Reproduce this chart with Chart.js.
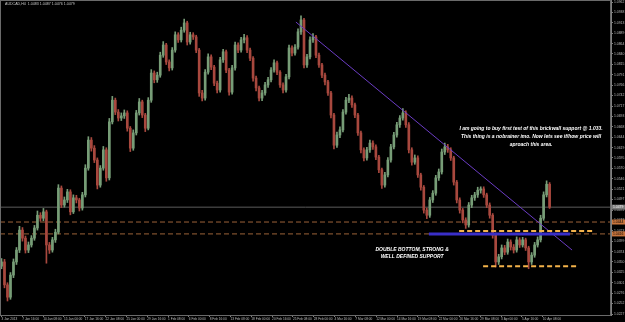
<!DOCTYPE html>
<html>
<head>
<meta charset="utf-8">
<script src="https://cdn.jsdelivr.net/npm/chart.js@4.4.1/dist/chart.umd.min.js"></script>
<style>
  html, body { margin: 0; padding: 0; background: #000; }
  #wrap { width: 625px; height: 322px; position: relative; }
</style>
</head>
<body>
<div id="wrap"><canvas id="chart"></canvas></div>
<script>
// H4 candles, open of each bar = close of the bar before
const firstOpen = 1.0340;
const closes = [
  1.0350, 1.0296, 1.0267, 1.0319, 1.0350, 1.0378, 1.0425, 1.0406, 1.0378, 1.0390,
  1.0406, 1.0430, 1.0460, 1.0453, 1.0468, 1.0390, 1.0378, 1.0402, 1.0420, 1.0524,
  1.0484, 1.0496, 1.0515, 1.0468, 1.0501, 1.0496, 1.0477, 1.0508, 1.0571, 1.0637,
  1.0618, 1.0590, 1.0531, 1.0571, 1.0614, 1.0548, 1.0680, 1.0731, 1.0703, 1.0689,
  1.0694, 1.0701, 1.0665, 1.0618, 1.0654, 1.0701, 1.0727, 1.0696, 1.0665, 1.0731,
  1.0795, 1.0779, 1.0790, 1.0837, 1.0861, 1.0821, 1.0807, 1.0849, 1.0885, 1.0873,
  1.0896, 1.0913, 1.0868, 1.0885, 1.0880, 1.0849, 1.0748, 1.0736, 1.0797, 1.0833,
  1.0809, 1.0771, 1.0755, 1.0826, 1.0845, 1.0802, 1.0750, 1.0807, 1.0861, 1.0849,
  1.0873, 1.0878, 1.0849, 1.0830, 1.0783, 1.0760, 1.0736, 1.0748, 1.0767, 1.0779,
  1.0802, 1.0819, 1.0797, 1.0767, 1.0755, 1.0786, 1.0854, 1.0842, 1.0856, 1.0892,
  1.0920, 1.0814, 1.0833, 1.0873, 1.0880, 1.0837, 1.0814, 1.0790, 1.0774, 1.0748,
  1.0696, 1.0625, 1.0649, 1.0661, 1.0703, 1.0731, 1.0736, 1.0720, 1.0696, 1.0654,
  1.0614, 1.0595, 1.0614, 1.0630, 1.0621, 1.0597, 1.0567, 1.0531, 1.0555, 1.0590,
  1.0621, 1.0649, 1.0673, 1.0689, 1.0701, 1.0673, 1.0614, 1.0585, 1.0595, 1.0555,
  1.0526, 1.0472, 1.0460, 1.0496, 1.0512, 1.0548, 1.0562, 1.0609, 1.0621, 1.0614,
  1.0595, 1.0538, 1.0496, 1.0472, 1.0449, 1.0437, 1.0484, 1.0501, 1.0508, 1.0519,
  1.0522, 1.0508, 1.0484, 1.0460, 1.0413, 1.0350, 1.0362, 1.0383, 1.0373, 1.0397,
  1.0385, 1.0378, 1.0402, 1.0390, 1.0402, 1.0383, 1.0350, 1.0366, 1.0390, 1.0402,
  1.0453, 1.0508, 1.0533, 1.0479
];
const highs = [
  1.0358, 1.0356, 1.0301, 1.0325, 1.0357, 1.0384, 1.0434, 1.0431, 1.0411, 1.0397,
  1.0412, 1.0436, 1.0470, 1.0466, 1.0476, 1.0472, 1.0396, 1.0408, 1.0427, 1.0532,
  1.0529, 1.0503, 1.0521, 1.0520, 1.0508, 1.0507, 1.0500, 1.0514, 1.0579, 1.0645,
  1.0643, 1.0624, 1.0595, 1.0577, 1.0622, 1.0619, 1.0688, 1.0740, 1.0736, 1.0709,
  1.0701, 1.0708, 1.0706, 1.0669, 1.0661, 1.0707, 1.0735, 1.0731, 1.0700, 1.0737,
  1.0803, 1.0800, 1.0797, 1.0844, 1.0869, 1.0865, 1.0826, 1.0855, 1.0892, 1.0890,
  1.0903, 1.0922, 1.0917, 1.0891, 1.0890, 1.0884, 1.0853, 1.0754, 1.0803, 1.0840,
  1.0838, 1.0813, 1.0776, 1.0832, 1.0851, 1.0849, 1.0806, 1.0813, 1.0868, 1.0866,
  1.0879, 1.0886, 1.0883, 1.0854, 1.0834, 1.0788, 1.0764, 1.0754, 1.0773, 1.0785,
  1.0808, 1.0826, 1.0823, 1.0801, 1.0772, 1.0792, 1.0861, 1.0859, 1.0862, 1.0899,
  1.0930, 1.0924, 1.0839, 1.0880, 1.0888, 1.0884, 1.0842, 1.0818, 1.0795, 1.0778,
  1.0752, 1.0700, 1.0656, 1.0668, 1.0709, 1.0738, 1.0745, 1.0741, 1.0724, 1.0700,
  1.0658, 1.0619, 1.0620, 1.0637, 1.0635, 1.0626, 1.0601, 1.0571, 1.0561, 1.0596,
  1.0627, 1.0655, 1.0679, 1.0695, 1.0711, 1.0706, 1.0678, 1.0619, 1.0602, 1.0600,
  1.0559, 1.0530, 1.0477, 1.0502, 1.0518, 1.0554, 1.0569, 1.0616, 1.0630, 1.0627,
  1.0619, 1.0599, 1.0542, 1.0501, 1.0476, 1.0454, 1.0490, 1.0507, 1.0514, 1.0526,
  1.0527, 1.0527, 1.0512, 1.0489, 1.0464, 1.0418, 1.0368, 1.0390, 1.0389, 1.0404,
  1.0402, 1.0391, 1.0409, 1.0407, 1.0408, 1.0406, 1.0387, 1.0372, 1.0396, 1.0409,
  1.0460, 1.0515, 1.0541, 1.0537
];
const lows = [
  1.0334, 1.0289, 1.0258, 1.0262, 1.0313, 1.0344, 1.0372, 1.0399, 1.0371, 1.0372,
  1.0385, 1.0401, 1.0425, 1.0446, 1.0447, 1.0347, 1.0370, 1.0373, 1.0396, 1.0416,
  1.0478, 1.0479, 1.0490, 1.0461, 1.0464, 1.0489, 1.0470, 1.0472, 1.0503, 1.0566,
  1.0611, 1.0584, 1.0522, 1.0526, 1.0566, 1.0540, 1.0543, 1.0675, 1.0697, 1.0682,
  1.0683, 1.0688, 1.0658, 1.0610, 1.0613, 1.0649, 1.0696, 1.0690, 1.0657, 1.0661,
  1.0726, 1.0772, 1.0773, 1.0785, 1.0832, 1.0815, 1.0800, 1.0802, 1.0844, 1.0867,
  1.0868, 1.0891, 1.0861, 1.0863, 1.0874, 1.0843, 1.0740, 1.0729, 1.0731, 1.0792,
  1.0803, 1.0765, 1.0748, 1.0750, 1.0820, 1.0796, 1.0743, 1.0745, 1.0802, 1.0843,
  1.0844, 1.0866, 1.0843, 1.0824, 1.0776, 1.0753, 1.0729, 1.0730, 1.0743, 1.0761,
  1.0774, 1.0797, 1.0791, 1.0761, 1.0748, 1.0750, 1.0781, 1.0835, 1.0837, 1.0851,
  1.0886, 1.0807, 1.0808, 1.0828, 1.0867, 1.0831, 1.0808, 1.0784, 1.0767, 1.0742,
  1.0689, 1.0616, 1.0620, 1.0643, 1.0656, 1.0698, 1.0725, 1.0714, 1.0690, 1.0648,
  1.0607, 1.0588, 1.0590, 1.0608, 1.0615, 1.0591, 1.0560, 1.0523, 1.0526, 1.0550,
  1.0585, 1.0616, 1.0644, 1.0667, 1.0684, 1.0667, 1.0607, 1.0578, 1.0580, 1.0549,
  1.0519, 1.0465, 1.0452, 1.0455, 1.0490, 1.0507, 1.0542, 1.0557, 1.0603, 1.0608,
  1.0589, 1.0531, 1.0489, 1.0465, 1.0442, 1.0429, 1.0432, 1.0478, 1.0495, 1.0502,
  1.0512, 1.0502, 1.0478, 1.0453, 1.0406, 1.0338, 1.0344, 1.0357, 1.0367, 1.0368,
  1.0378, 1.0371, 1.0373, 1.0384, 1.0385, 1.0377, 1.0334, 1.0344, 1.0361, 1.0385,
  1.0397, 1.0448, 1.0503, 1.0476
];

const dateLabels = [
  '3 Jan 2013', '7 Jan 16:00', '10 Jan 08:00', '15 Jan 00:00', '17 Jan 16:00',
  '22 Jan 08:00', '25 Jan 00:00', '29 Jan 16:00', '1 Feb 08:00', '6 Feb 00:00',
  '8 Feb 16:00', '13 Feb 08:00', '18 Feb 00:00', '20 Feb 16:00', '25 Feb 08:00',
  '28 Feb 00:00', '4 Mar 16:00', '7 Mar 08:00', '12 Mar 00:00', '14 Mar 16:00',
  '19 Mar 08:00', '22 Mar 00:00', '26 Mar 16:00', '29 Mar 08:00', '3 Apr 00:00',
  '5 Apr 16:00', '10 Apr 08:00'
];
const priceLabels = [
  '1.0962', '1.0938', '1.0913', '1.0889', '1.0864', '1.0840', '1.0815', '1.0791',
  '1.0766', '1.0742', '1.0717', '1.0693', '1.0668', '1.0644', '1.0619', '1.0595',
  '1.0570', '1.0546', '1.0521', '1.0497', '1.0472', '1.0448', '1.0423', '1.0399',
  '1.0374', '1.0350', '1.0325', '1.0301', '1.0276', '1.0252', '1.0227'
];

// drawn objects on the chart
const bidPrice = 1.0479;
const levelLines = [1.0444, 1.0416];
const trendLine = [[98.3, 1.0915], [190.5, 1.0378]];
const blueLine = [[142.7, 1.0416], [189.8, 1.0416]];
const supportTop = [[152.8, 1.0423], [197.2, 1.0423]];
const supportLow = [[160.8, 1.0340], [192.2, 1.0340]];

const noteTop = [
  'I am going to buy first test of this brickwall support @ 1.033.',
  'This thing is a nobrainer imo. Now lets see if/how price will',
  'aproach this area.'
];
const noteLow = ['DOUBLE BOTTOM, STRONG &', 'WELL DEFINED SUPPORT'];
const title = 'AUDCAD,H4  1.0483 1.0487 1.0476 1.0479';

const bullColor = '#779d77';
const bearColor = '#a8483e';
const xSlots = 204;
const xStep = 6.95;

function candleColors() {
  return closes.map((c, k) => {
    let o = k == 0 ? firstOpen : closes[k - 1];
    return c >= o ? bullColor : bearColor;
  });
}

function segment(pts) {
  return pts.map((p) => ({ x: p[0], y: p[1] }));
}

const colors = candleColors();

const wickData = closes.map((c, k) => ({ x: k, y: [lows[k], highs[k]] }));
const bodyData = closes.map((c, k) => {
  let o = k == 0 ? firstOpen : closes[k - 1];
  return { x: k, y: [o, c] };
});

const lineDefaults = {
  type: 'line',
  pointRadius: 0,
  fill: false,
  tension: 0,
};

const notesPlugin = {
  id: 'notes',
  afterDatasetsDraw(chart) {
    const ctx = chart.ctx;
    const xs = chart.scales.x;
    const ys = chart.scales.y;
    const area = chart.chartArea;

    ctx.save();
    // title
    ctx.fillStyle = '#c8c8c8';
    ctx.font = '3.6px "Liberation Sans", Arial, sans-serif';
    ctx.textAlign = 'left';
    ctx.textBaseline = 'middle';
    ctx.fillText(title, area.left + 5, area.top + 4);

    // comments
    ctx.fillStyle = '#ffffff';
    ctx.font = 'italic bold 5px "Liberation Sans", Arial, sans-serif';
    ctx.textAlign = 'center';
    let cx = xs.getPixelForValue(176.8);
    let cy = ys.getPixelForValue(1.0665);
    noteTop.forEach((line, i) => ctx.fillText(line, cx, cy + i * 8.3));
    cx = xs.getPixelForValue(137.1);
    cy = ys.getPixelForValue(1.0378);
    noteLow.forEach((line, i) => ctx.fillText(line, cx, cy + i * 6.8));

    // price tags on the axis
    const tags = [
      [bidPrice, '#7a7a7a', '#ffffff'],
      [levelLines[0], '#c8743c', '#000000'],
      [levelLines[1], '#c8743c', '#000000'],
    ];
    ctx.font = '3.4px "Liberation Sans", Arial, sans-serif';
    ctx.textAlign = 'left';
    tags.forEach(([v, bg, fg]) => {
      let y = ys.getPixelForValue(v);
      ctx.fillStyle = bg;
      ctx.fillRect(ys.left + 1, y - 2.5, ys.width, 5);
      ctx.fillStyle = fg;
      ctx.fillText(v.toFixed(4), ys.left + 2, y);
    });

    // chart frame
    ctx.strokeStyle = '#6a6a6a';
    ctx.lineWidth = 1;
    ctx.strokeRect(area.left + 0.5, area.top + 0.5, area.right - area.left - 1, area.bottom - area.top);
    ctx.restore();
  },
};

const ctx = document.getElementById('chart').getContext('2d');
new Chart(ctx, {
  data: {
    datasets: [
      {
        ...lineDefaults,
        data: [{ x: -0.5, y: bidPrice }, { x: xSlots - 0.5, y: bidPrice }],
        borderColor: '#5c5c5c',
        borderWidth: 1,
        order: 9,
      },
      ...levelLines.map((v) => ({
        ...lineDefaults,
        data: [{ x: -0.5, y: v }, { x: xSlots - 0.5, y: v }],
        borderColor: '#9c6238',
        borderWidth: 1,
        borderDash: [5, 3],
        order: 8,
      })),
      {
        type: 'bar',
        data: wickData,
        backgroundColor: colors,
        barThickness: 1,
        grouped: false,
        order: 5,
      },
      {
        type: 'bar',
        data: bodyData,
        backgroundColor: colors,
        barThickness: 2,
        minBarLength: 1,
        grouped: false,
        order: 4,
      },
      {
        ...lineDefaults,
        data: segment(trendLine),
        borderColor: '#6b3cc4',
        borderWidth: 1,
        order: 3,
      },
      {
        ...lineDefaults,
        data: segment(blueLine),
        borderColor: '#3a2fc8',
        borderWidth: 3,
        order: 2,
      },
      {
        ...lineDefaults,
        data: segment(supportTop),
        borderColor: '#f3b24a',
        borderWidth: 2,
        borderDash: [5, 3],
        order: 1,
      },
      {
        ...lineDefaults,
        data: segment(supportLow),
        borderColor: '#f3b24a',
        borderWidth: 2,
        borderDash: [5, 3],
        order: 1,
      },
    ],
  },
  options: {
    responsive: true,
    maintainAspectRatio: false,
    animation: false,
    layout: { padding: 0, autoPadding: false },
    plugins: {
      legend: { display: false },
      tooltip: { enabled: false },
    },
    scales: {
      x: {
        type: 'linear',
        offset: false,
        min: -0.5,
        max: xSlots - 0.5,
        afterBuildTicks: (s) => {
          s.ticks = dateLabels.map((_, i) => ({ value: i * xStep }));
        },
        afterFit: (s) => {
          s.height = 7;
          s.paddingLeft = 0;
          s.paddingRight = 0;
        },
        grid: {
          offset: false,
          drawOnChartArea: false,
          drawTicks: true,
          tickLength: 2,
          color: '#808080',
        },
        border: { display: true, color: '#808080' },
        ticks: {
          autoSkip: false,
          maxRotation: 0,
          align: 'start',
          padding: 0,
          color: '#bdbdbd',
          font: { size: 3.2, family: '"Liberation Sans", Arial, sans-serif' },
          callback: (v, i) => dateLabels[i],
        },
      },
      y: {
        type: 'linear',
        position: 'right',
        min: 1.0225,
        max: 1.0967,
        afterBuildTicks: (s) => {
          s.ticks = priceLabels.map((t) => ({ value: parseFloat(t) }));
        },
        afterFit: (s) => {
          s.width = 14;
          s.paddingTop = 0;
          s.paddingBottom = 0;
        },
        grid: {
          drawOnChartArea: false,
          drawTicks: true,
          tickLength: 2,
          color: '#808080',
        },
        border: { display: true, color: '#808080' },
        ticks: {
          padding: 1,
          color: '#bdbdbd',
          font: { size: 3.4, family: '"Liberation Sans", Arial, sans-serif' },
          callback: (v, i) => priceLabels[i],
        },
      },
    },
  },
  plugins: [notesPlugin],
});
</script>
</body>
</html>
